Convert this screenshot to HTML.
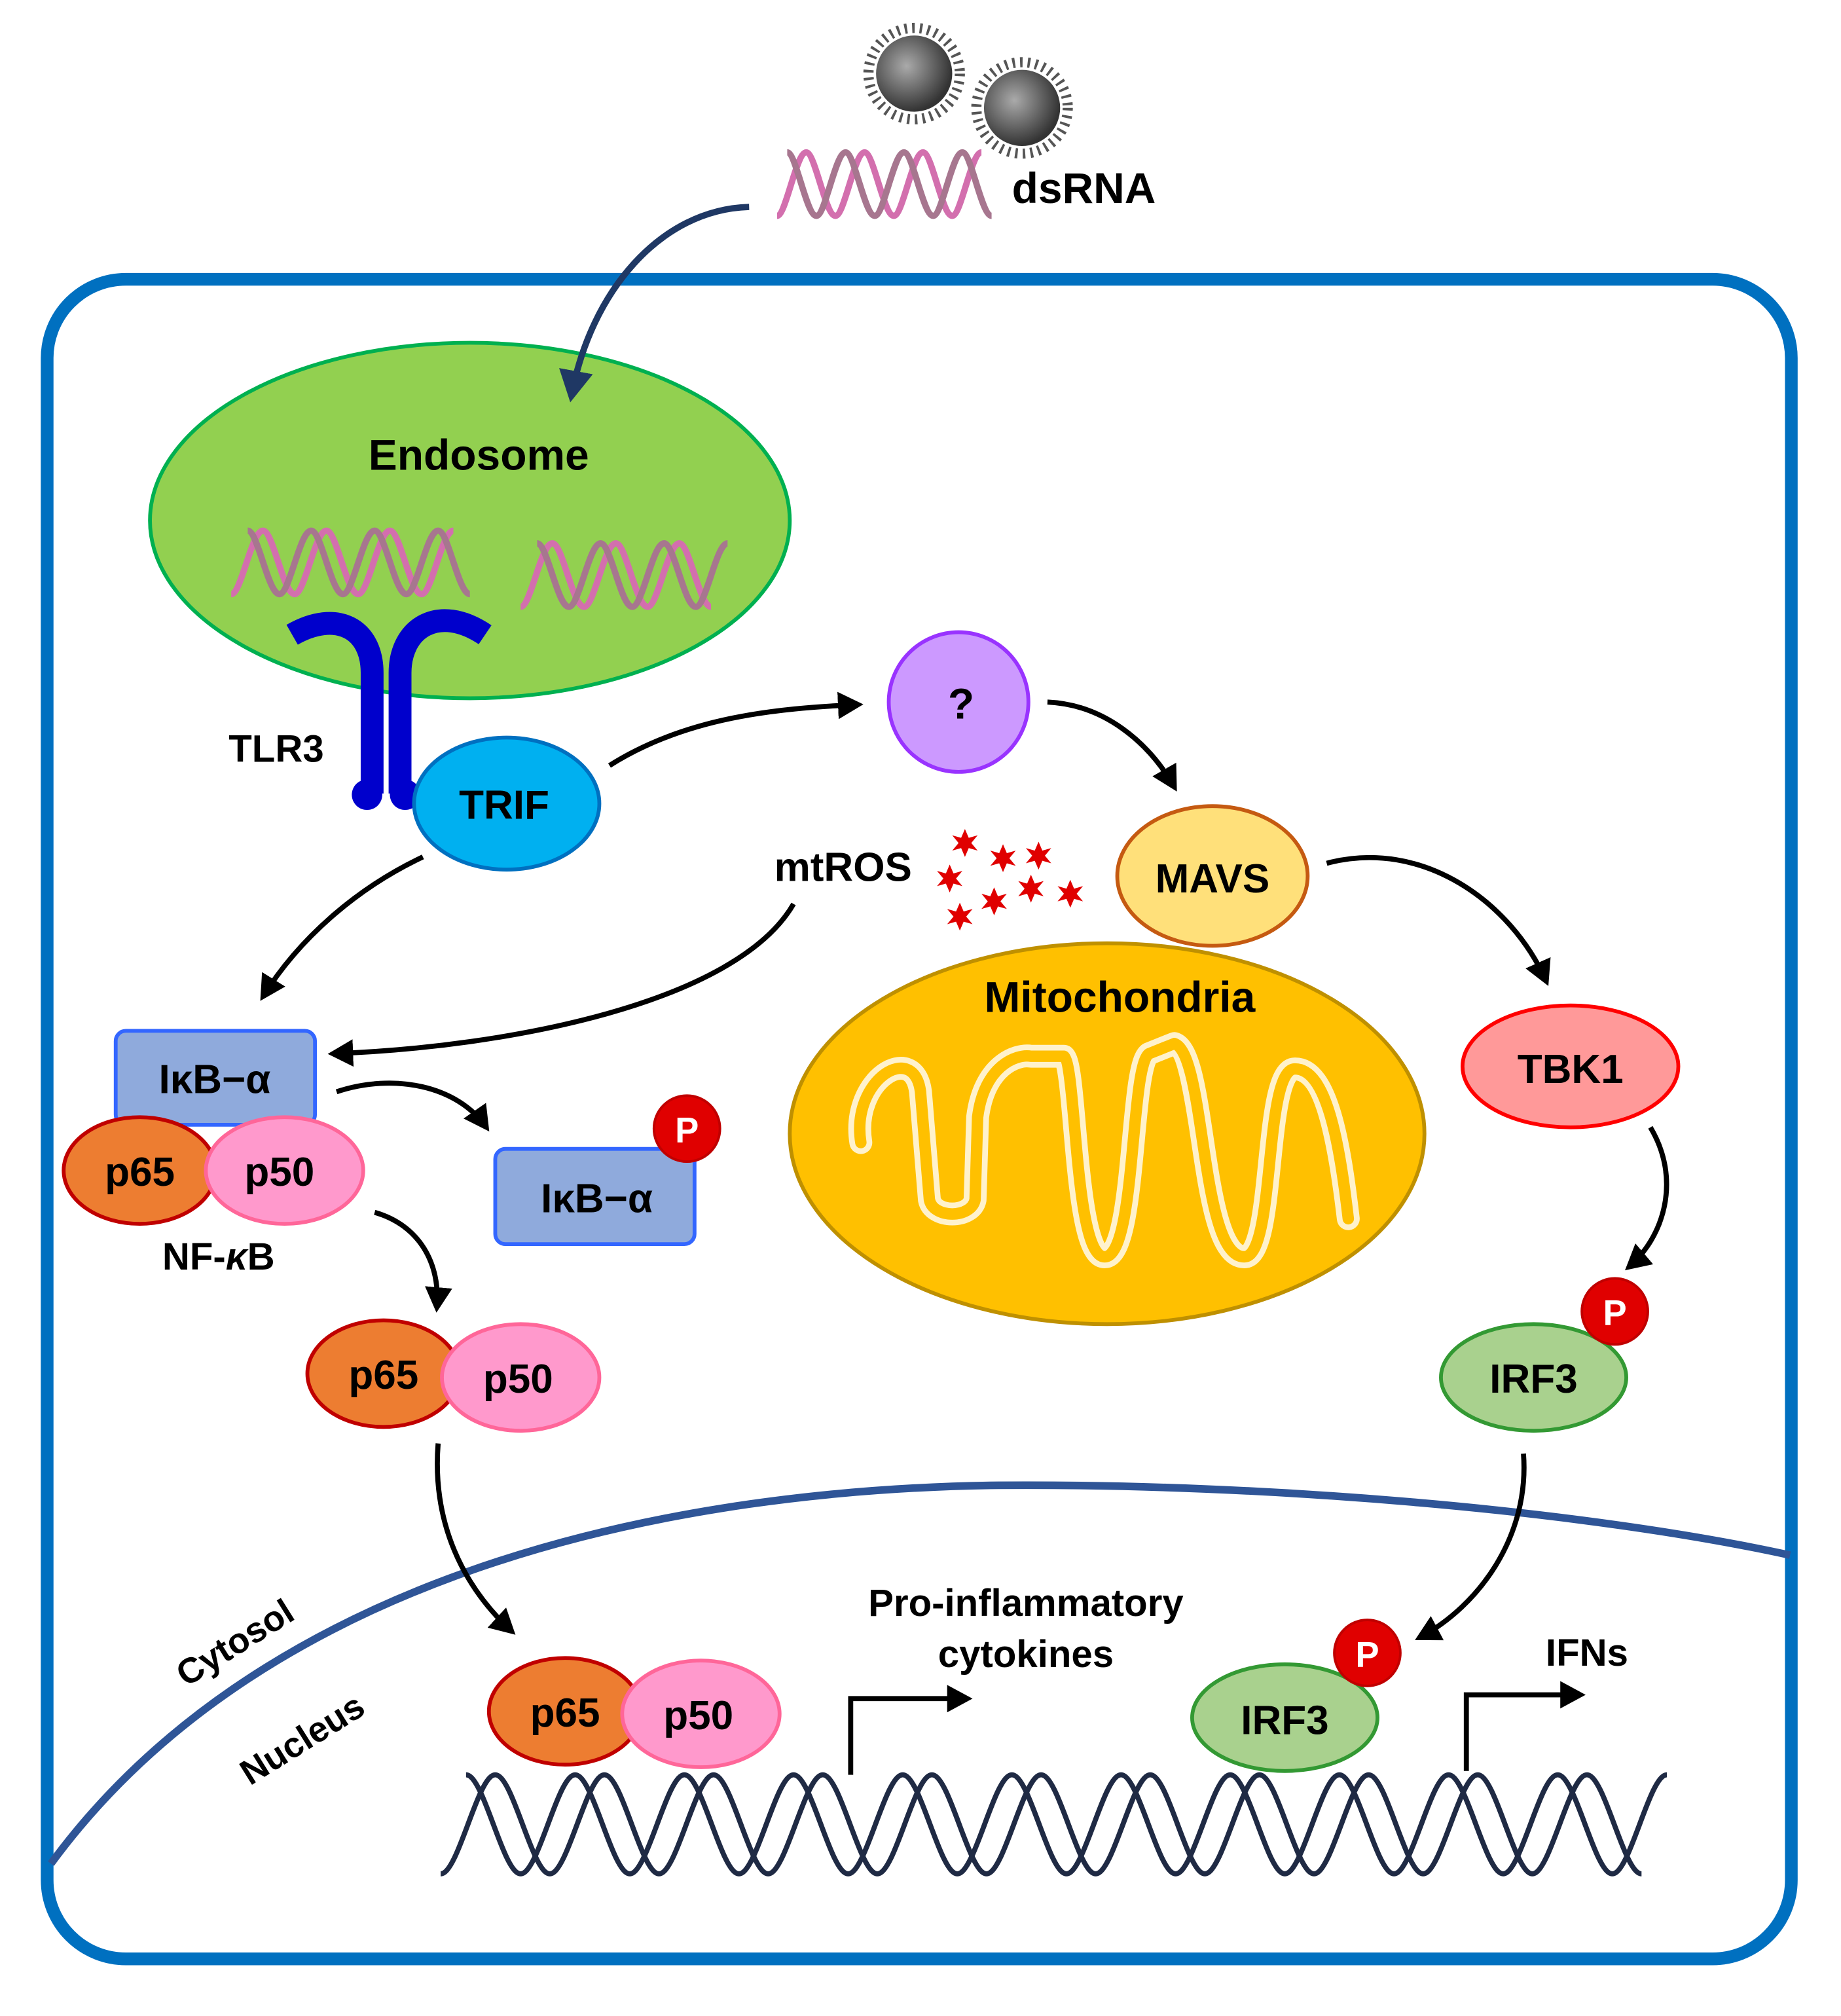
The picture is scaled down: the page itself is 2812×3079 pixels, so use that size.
<!DOCTYPE html>
<html><head><meta charset="utf-8"><style>html,body{margin:0;padding:0;background:#fff}svg{display:block}text{font-family:"Liberation Sans",Arial,sans-serif;font-weight:bold;fill:#000}</style></head>
<body>
<svg width="2812" height="3079" viewBox="0 0 1450 1588" xmlns="http://www.w3.org/2000/svg">
<defs>
<marker id="ah" markerWidth="6" markerHeight="6" refX="4" refY="3" orient="auto" markerUnits="strokeWidth"><path d="M0,0.3 L5,3 L0,5.7 Z" fill="#000"/></marker>
<marker id="ahn" markerWidth="6" markerHeight="6" refX="4" refY="3" orient="auto" markerUnits="strokeWidth"><path d="M0,0.3 L5,3 L0,5.7 Z" fill="#1F3864"/></marker>
<radialGradient id="vg" cx="40%" cy="40%" r="60%"><stop offset="0" stop-color="#aaa"/><stop offset="1" stop-color="#333"/></radialGradient>
<path id="star" d="M0,-11 L3,-4 L10,-6 L5,0 L10,6 L3,4 L0,11 L-3,4 L-10,6 L-5,0 L-10,-6 L-3,-4 Z" fill="#E00000"/>
</defs>
<rect width="1450" height="1588" fill="#fff"/>
<g><circle cx="720" cy="58" r="36" fill="none" stroke="#555" stroke-width="8" stroke-dasharray="2 4"/><circle cx="720" cy="58" r="30" fill="url(#vg)"/></g>
<g><circle cx="805" cy="85" r="36" fill="none" stroke="#555" stroke-width="8" stroke-dasharray="2 4"/><circle cx="805" cy="85" r="30" fill="url(#vg)"/></g>
<path d="M612,170 c7,0 15,-50 23,-50 c7,0 15,50 23,50 c7,0 15,-50 23,-50 c7,0 15,50 23,50 c7,0 15,-50 23,-50 c7,0 15,50 23,50 c7,0 15,-50 23,-50" fill="none" stroke="#D36FAE" stroke-width="5"/>
<path d="M620,120 c7,0 15,50 23,50 c7,0 15,-50 23,-50 c7,0 15,50 23,50 c7,0 15,-50 23,-50 c7,0 15,50 23,50 c7,0 15,-50 23,-50 c7,0 15,50 23,50" fill="none" stroke="#A7768F" stroke-width="5"/>
<text x="797" y="160" font-size="34">dsRNA</text>
<rect x="37" y="220" width="1374" height="1323" rx="62" fill="none" stroke="#0070C0" stroke-width="10"/>
<ellipse cx="370" cy="410" rx="252" ry="140" fill="#92D050" stroke="#00B050" stroke-width="3"/>
<path d="M590,163 C520,165 465,230 450,312" fill="none" stroke="#1F3864" stroke-width="5" marker-end="url(#ahn)"/>
<text x="377" y="370" font-size="34" text-anchor="middle">Endosome</text>
<path d="M182,468 c8,0 16,-50 25,-50 c8,0 16,50 25,50 c8,0 16,-50 25,-50 c8,0 16,50 25,50 c8,0 16,-50 25,-50 c8,0 16,50 25,50 c8,0 16,-50 25,-50" fill="none" stroke="#D36FAE" stroke-width="5"/>
<path d="M195,418 c8,0 16,50 25,50 c8,0 16,-50 25,-50 c8,0 16,50 25,50 c8,0 16,-50 25,-50 c8,0 16,50 25,50 c8,0 16,-50 25,-50 c8,0 16,50 25,50" fill="none" stroke="#A7768F" stroke-width="5"/>
<path d="M410,478 c8,0 16,-50 25,-50 c8,0 16,50 25,50 c8,0 16,-50 25,-50 c8,0 16,50 25,50 c8,0 16,-50 25,-50 c8,0 16,50 25,50" fill="none" stroke="#D36FAE" stroke-width="5"/>
<path d="M423,428 c8,0 16,50 25,50 c8,0 16,-50 25,-50 c8,0 16,50 25,50 c8,0 16,-50 25,-50 c8,0 16,50 25,50 c8,0 16,-50 25,-50" fill="none" stroke="#A7768F" stroke-width="5"/>
<g fill="none" stroke="#0000CC" stroke-width="18">
<path d="M293,625 L293,530 C293,495 265,480 230,500"/>
<path d="M315,625 L315,530 C315,495 345,475 382,500"/>
</g>
<circle cx="289" cy="626" r="12" fill="#0000CC"/><circle cx="319" cy="626" r="12" fill="#0000CC"/>
<text x="180" y="600" font-size="30">TLR3</text>
<ellipse cx="399" cy="633" rx="73" ry="52" fill="#00B0F0" stroke="#0070C0" stroke-width="3"/>
<text x="397" y="645" font-size="32" text-anchor="middle">TRIF</text>
<circle cx="755" cy="553" r="55" fill="#CC99FF" stroke="#9933FF" stroke-width="3"/>
<text x="757" y="566" font-size="34" text-anchor="middle">?</text>
<ellipse cx="872" cy="893" rx="250" ry="150" fill="#FFC000" stroke="#BF9000" stroke-width="3"/>
<g fill="none" stroke-linejoin="round" stroke-linecap="round">
<path d="M678,900 C670,850 720,820 725,860 L732,945 C735,960 765,960 768,945 L770,880 C775,840 800,830 812,832 L838,832 C848,840 846,990 870,990 C895,990 890,840 905,830 L925,822 C950,830 945,990 980,990 C1005,990 995,842 1020,842 C1045,842 1055,900 1062,960" stroke="#FFF2CC" stroke-width="18"/>
<path d="M678,900 C670,850 720,820 725,860 L732,945 C735,960 765,960 768,945 L770,880 C775,840 800,830 812,832 L838,832 C848,840 846,990 870,990 C895,990 890,840 905,830 L925,822 C950,830 945,990 980,990 C1005,990 995,842 1020,842 C1045,842 1055,900 1062,960" stroke="#FFC000" stroke-width="9"/>
</g>
<text x="882" y="797" font-size="34" text-anchor="middle">Mitochondria</text>
<ellipse cx="955" cy="690" rx="75" ry="55" fill="#FFE07A" stroke="#C55A11" stroke-width="3"/>
<text x="955" y="703" font-size="32" text-anchor="middle">MAVS</text>
<text x="664" y="694" font-size="32" text-anchor="middle">mtROS</text>
<use href="#star" x="760" y="664"/><use href="#star" x="790" y="676"/><use href="#star" x="818" y="674"/><use href="#star" x="748" y="692"/><use href="#star" x="812" y="700"/><use href="#star" x="843" y="704"/><use href="#star" x="783" y="710"/><use href="#star" x="756" y="722"/>
<ellipse cx="1237" cy="840" rx="85" ry="48" fill="#FF9999" stroke="#FF0000" stroke-width="3"/>
<text x="1237" y="853" font-size="32" text-anchor="middle">TBK1</text>
<ellipse cx="1208" cy="1085" rx="73" ry="42" fill="#A9D18E" stroke="#339933" stroke-width="3"/>
<text x="1208" y="1097" font-size="32" text-anchor="middle">IRF3</text>
<circle cx="1272" cy="1033" r="26" fill="#E00000" stroke="#C00000" stroke-width="2"/><text x="1272" y="1044" font-size="28" text-anchor="middle" style="fill:#fff">P</text>
<rect x="91" y="812" width="157" height="74" rx="8" fill="#8FAADC" stroke="#3366FF" stroke-width="3"/>
<text x="169" y="861" font-size="32" text-anchor="middle">IκB−α</text>
<ellipse cx="110" cy="922" rx="60" ry="42" fill="#ED7D31" stroke="#C00000" stroke-width="3"/>
<text x="110" y="934" font-size="32" text-anchor="middle">p65</text>
<ellipse cx="224" cy="922" rx="62" ry="42" fill="#FF99CC" stroke="#FF6699" stroke-width="3"/>
<text x="220" y="934" font-size="32" text-anchor="middle">p50</text>
<text x="172" y="1000" font-size="30" text-anchor="middle">NF-<tspan font-style="italic">κ</tspan>B</text>
<rect x="390" y="905" width="157" height="75" rx="8" fill="#8FAADC" stroke="#3366FF" stroke-width="3"/>
<text x="470" y="955" font-size="32" text-anchor="middle">IκB−α</text>
<circle cx="541" cy="889" r="26" fill="#E00000" stroke="#C00000" stroke-width="2"/><text x="541" y="900" font-size="28" text-anchor="middle" style="fill:#fff">P</text>
<ellipse cx="302" cy="1082" rx="60" ry="42" fill="#ED7D31" stroke="#C00000" stroke-width="3"/>
<text x="302" y="1094" font-size="32" text-anchor="middle">p65</text>
<ellipse cx="410" cy="1085" rx="62" ry="42" fill="#FF99CC" stroke="#FF6699" stroke-width="3"/>
<text x="408" y="1097" font-size="32" text-anchor="middle">p50</text>
<path d="M40,1468 C200,1250 500,1175 780,1170 C1000,1168 1250,1190 1410,1225" fill="none" stroke="#2F5597" stroke-width="6"/>
<text x="190" y="1302" font-size="28" text-anchor="middle" transform="rotate(-32 190 1302)">Cytosol</text>
<text x="243" y="1378" font-size="28" text-anchor="middle" transform="rotate(-32 243 1378)">Nucleus</text>
<g fill="none" stroke="#1F2A44" stroke-width="4">
<path d="M347,1476 c14,0 29,-78 43,-78 c14,0 29,78 43,78 c14,0 29,-78 43,-78 c14,0 29,78 43,78 c14,0 29,-78 43,-78 c14,0 29,78 43,78 c14,0 29,-78 43,-78 c14,0 29,78 43,78 c14,0 29,-78 43,-78 c14,0 29,78 43,78 c14,0 29,-78 43,-78 c14,0 29,78 43,78 c14,0 29,-78 43,-78 c14,0 29,78 43,78 c14,0 29,-78 43,-78 c14,0 29,78 43,78 c14,0 29,-78 43,-78 c14,0 29,78 43,78 c14,0 29,-78 43,-78 c14,0 29,78 43,78 c14,0 29,-78 43,-78 c14,0 29,78 43,78"/>
<path d="M367,1398 c14,0 29,78 43,78 c14,0 29,-78 43,-78 c14,0 29,78 43,78 c14,0 29,-78 43,-78 c14,0 29,78 43,78 c14,0 29,-78 43,-78 c14,0 29,78 43,78 c14,0 29,-78 43,-78 c14,0 29,78 43,78 c14,0 29,-78 43,-78 c14,0 29,78 43,78 c14,0 29,-78 43,-78 c14,0 29,78 43,78 c14,0 29,-78 43,-78 c14,0 29,78 43,78 c14,0 29,-78 43,-78 c14,0 29,78 43,78 c14,0 29,-78 43,-78 c14,0 29,78 43,78 c14,0 29,-78 43,-78 c14,0 29,78 43,78 c14,0 29,-78 43,-78"/>
</g>
<ellipse cx="445" cy="1348" rx="60" ry="42" fill="#ED7D31" stroke="#C00000" stroke-width="3"/>
<text x="445" y="1360" font-size="32" text-anchor="middle">p65</text>
<ellipse cx="552" cy="1350" rx="62" ry="42" fill="#FF99CC" stroke="#FF6699" stroke-width="3"/>
<text x="550" y="1362" font-size="32" text-anchor="middle">p50</text>
<ellipse cx="1012" cy="1353" rx="73" ry="42" fill="#A9D18E" stroke="#339933" stroke-width="3"/>
<text x="1012" y="1366" font-size="32" text-anchor="middle">IRF3</text>
<circle cx="1077" cy="1302" r="26" fill="#E00000" stroke="#C00000" stroke-width="2"/><text x="1077" y="1313" font-size="28" text-anchor="middle" style="fill:#fff">P</text>
<path d="M670,1398 L670,1338 L762,1338" fill="none" stroke="#000" stroke-width="4" marker-end="url(#ah)"/>
<text x="808" y="1273" font-size="30" text-anchor="middle">Pro-inflammatory</text>
<text x="808" y="1313" font-size="30" text-anchor="middle">cytokines</text>
<path d="M1155,1395 L1155,1335 L1245,1335" fill="none" stroke="#000" stroke-width="4" marker-end="url(#ah)"/>
<text x="1250" y="1312" font-size="30" text-anchor="middle">IFNs</text>
<g fill="none" stroke="#000" stroke-width="4" marker-end="url(#ah)">
<path d="M480,603 C540,565 610,558 676,555"/>
<path d="M825,553 C870,555 905,585 925,620"/>
<path d="M1045,680 C1120,660 1190,710 1218,773"/>
<path d="M1300,888 C1325,930 1310,975 1283,998"/>
<path d="M333,675 C280,700 235,740 207,785"/>
<path d="M625,712 C580,790 400,825 262,830"/>
<path d="M265,860 C310,845 360,855 383,888"/>
<path d="M295,955 C330,965 347,995 344,1030"/>
<path d="M345,1137 C340,1200 365,1250 403,1285"/>
<path d="M1200,1145 C1205,1210 1165,1265 1118,1290"/>
</g>
</svg>
</body></html>
